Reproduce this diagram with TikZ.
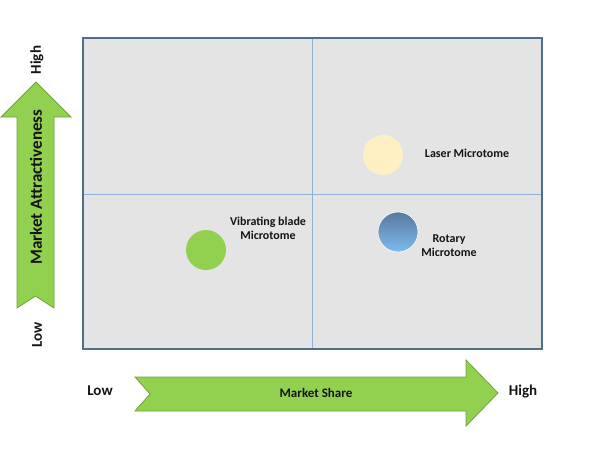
\documentclass[tikz,border=0pt]{standalone}
\usepackage{fontspec}
\setmainfont{Carlito}
\definecolor{arrowgreen}{HTML}{92D050}
\definecolor{arrowedge}{HTML}{71A33C}
\definecolor{boxedge}{HTML}{4F6D8C}
\definecolor{boxfill}{HTML}{E4E4E4}
\definecolor{divider}{HTML}{8DB3D6}
\definecolor{lasery}{HTML}{FFF0C4}
\definecolor{rotdark}{HTML}{59799E}
\definecolor{rotlight}{HTML}{7DBBEE}
\definecolor{textdark}{HTML}{141414}
\begin{document}
\begin{tikzpicture}[x=1pt,y=-1pt,
  bigarrow/.style={fill=arrowgreen,draw=arrowedge,line width=0.8pt,line join=miter},
  axislabel/.style={font=\bfseries\fontsize{15}{17}\selectfont,text=textdark,inner sep=0pt},
  itemlabel/.style={font=\bfseries\fontsize{12}{14}\selectfont,text=textdark,align=center,inner sep=0pt},
  bubble/.style={circle,minimum size=40pt,inner sep=0pt}]
\useasboundingbox (0,0) rectangle (593,472);
% matrix box
\fill[boxfill] (83,38) rectangle (542,349);
\draw[divider,line width=1pt] (312,38) -- (312,349);
\draw[divider,line width=1pt] (83,194) -- (542,194);
\draw[boxedge,line width=2.5pt] (83,38) rectangle (542,349);
% vertical arrow
\draw[bigarrow] (17,308) -- (17,117) -- (1,117) -- (36,82) -- (71,117) -- (54,117) -- (54,308) -- (35.5,296) -- cycle;
\node[axislabel,rotate=90,font=\bfseries\fontsize{17}{19}\selectfont] (ma) at (36,187) {Market Attractiveness};
\node[axislabel,rotate=90] (vhigh) at (37,60) {High};
\node[axislabel,rotate=90] (vlow) at (37,335) {Low};
% horizontal arrow
\draw[bigarrow] (135,377) -- (466,377) -- (466,360) -- (498,393) -- (466,426) -- (466,411) -- (135,411) -- (150,394) -- cycle;
\node[axislabel,font=\bfseries\fontsize{13}{15}\selectfont] (ms) at (316,393) {Market Share};
\node[axislabel] (hlow) at (100,391) {Low};
\node[axislabel] (hhigh) at (523,391) {High};
% bubbles
\node[bubble,fill=lasery] (laser) at (383,155) {};
\node[bubble,top color=rotdark,bottom color=rotlight,draw=white,line width=0.6pt] (rotary) at (398,232) {};
\node[bubble,fill=arrowgreen] (vib) at (206,250) {};
\node[itemlabel] (laserl) at (467,153) {Laser Microtome};
\node[itemlabel] (rotaryl) at (449,246) {Rotary\\Microtome};
\node[itemlabel] (vibl) at (268,228) {Vibrating blade\\Microtome};
\end{tikzpicture}
\end{document}
